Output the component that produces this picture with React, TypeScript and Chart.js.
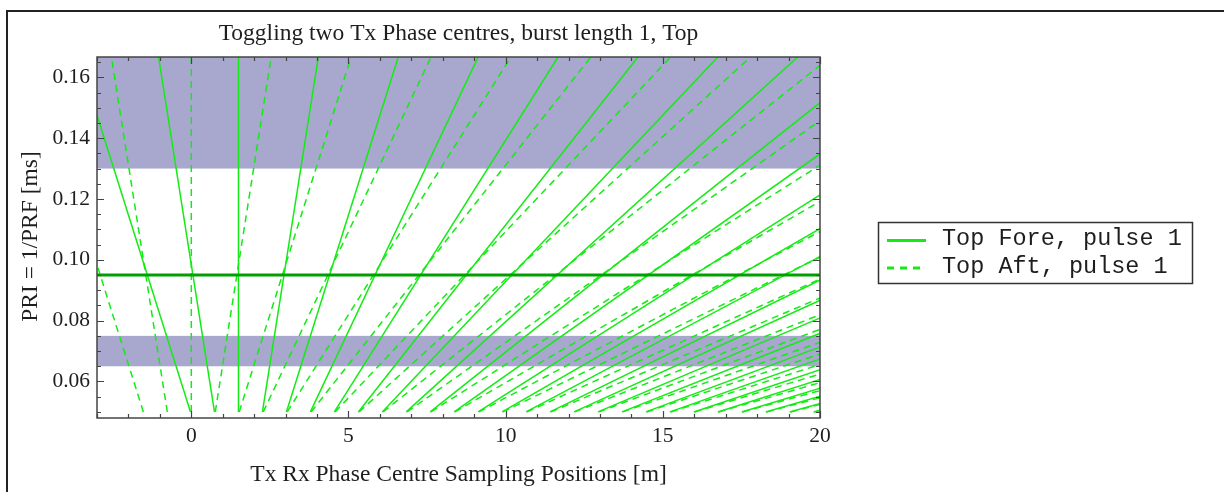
import React, { useEffect, useRef } from "react";
import { Chart, registerables } from "chart.js";

Chart.register(...registerables);

// ---------- text ----------
const titleText = "Toggling two Tx Phase centres, burst length 1, Top";
const xAxisTitle = "Tx Rx Phase Centre Sampling Positions [m]";
const yAxisTitle = "PRI = 1/PRF [ms]";
const legendLabels = ["Top Fore, pulse 1", "Top Aft, pulse 1"];

// ---------- axes ----------
const xMin = -3;
const xMax = 20;
const yMin = 0.048;
const yMax = 0.16667;
const xMajorTicks = [0, 5, 10, 15, 20];
const xTickLabels = ["0", "5", "10", "15", "20"];
const yMajorTicks = [0.06, 0.08, 0.1, 0.12, 0.14, 0.16];
const yTickLabels = ["0.06", "0.08", "0.10", "0.12", "0.14", "0.16"];
const xMinorStep = 1;
const yMinorStep = 0.005;

// ---------- data ----------
// PRI span covered by the sampling-position lines (ms)
const priStart = 0.05;
const priEnd = 0.16667;
// phase-centre position at PRI = 0 (m)
const foreOrigin = 1.5;
const aftOrigin = 0;
// rate of change of sampling position with PRI for each pulse line (m per ms)
const foreSlopes = [
  -30.5, -15.25, 0, 15.25, 30.5, 45.75, 61, 76.25, 91.5, 106.75, 122, 137.25,
  152.5, 167.75, 183, 198.25, 213.5, 228.75, 244, 259.25, 274.5, 289.75, 305,
  320.25, 335.5, 350.75, 366, 381.25,
];
const aftSlopes = [
  -30.5, -15.25, 0, 15.25, 30.5, 45.75, 61, 76.25, 91.5, 106.75, 122, 137.25,
  152.5, 167.75, 183, 198.25, 213.5, 228.75, 244, 259.25, 274.5, 289.75, 305,
  320.25, 335.5, 350.75, 366, 381.25, 396.5, 411.75,
];
// chosen PRI (ms)
const selectedPri = [0.095];
// shaded (blind) PRI bands (ms)
const bandLows = [0.065, 0.13];
const bandHighs = [0.075, 0.16667];

// ---------- styles ----------
const lineGreen = "rgb(20,235,20)";
const darkGreen = "rgb(0,160,0)";
const bandColor = "rgb(168,168,207)";
const frameColor = "#444";
const textColor = "#1e1e1e";
const serif = "'Liberation Serif', 'Times New Roman', serif";
const mono = "'Liberation Mono', 'Courier New', monospace";

function lineDataset(origin: number, slope: number, dashed: boolean) {
  return {
    data: [
      { x: origin + slope * priStart, y: priStart },
      { x: origin + slope * priEnd, y: priEnd },
    ],
    showLine: true,
    borderColor: lineGreen,
    backgroundColor: lineGreen,
    borderWidth: 1.5,
    borderDash: dashed ? [7, 5] : [],
    pointRadius: 0,
    pointHoverRadius: 0,
    clip: 0,
    fill: false,
  };
}

const decorPlugin = {
  id: "decor",
  beforeDatasetsDraw(chart: any) {
    const { ctx, chartArea: a, scales } = chart;
    const y = scales.y;
    ctx.save();
    ctx.fillStyle = bandColor;
    for (let i = 0; i < bandLows.length; i++) {
      const top = y.getPixelForValue(Math.min(bandHighs[i], yMax));
      const bot = y.getPixelForValue(Math.max(bandLows[i], yMin));
      ctx.fillRect(a.left, top, a.right - a.left, bot - top);
    }
    ctx.restore();
  },
  afterDatasetsDraw(chart: any) {
    const { ctx, chartArea: a, scales } = chart;
    const x = scales.x;
    const y = scales.y;
    ctx.save();
    ctx.strokeStyle = frameColor;
    ctx.lineWidth = 1.5;
    ctx.strokeRect(a.left, a.top, a.right - a.left, a.bottom - a.top);
    ctx.lineWidth = 1.2;
    const major = 7;
    const minor = 4;
    ctx.beginPath();
    // x ticks (bottom + top)
    for (let v = Math.ceil(xMin / xMinorStep) * xMinorStep; v <= xMax + 1e-9; v += xMinorStep) {
      const isMajor = xMajorTicks.some((m) => Math.abs(m - v) < 1e-9);
      const len = isMajor ? major : minor;
      const px = Math.round(x.getPixelForValue(v)) + 0.5;
      ctx.moveTo(px, a.bottom);
      ctx.lineTo(px, a.bottom - len);
      ctx.moveTo(px, a.top);
      ctx.lineTo(px, a.top + len);
    }
    // y ticks (left + right)
    const n0 = Math.ceil(yMin / yMinorStep - 1e-6);
    const n1 = Math.floor(yMax / yMinorStep + 1e-6);
    for (let n = n0; n <= n1; n++) {
      const v = n * yMinorStep;
      const isMajor = yMajorTicks.some((m) => Math.abs(m - v) < 1e-9);
      const len = isMajor ? major : minor;
      const py = Math.round(y.getPixelForValue(v)) + 0.5;
      ctx.moveTo(a.left, py);
      ctx.lineTo(a.left + len, py);
      ctx.moveTo(a.right, py);
      ctx.lineTo(a.right - len, py);
    }
    ctx.stroke();
    ctx.restore();
  },
  afterDraw(chart: any) {
    const { ctx, chartArea: a } = chart;
    ctx.save();
    ctx.fillStyle = textColor;
    // title
    ctx.font = `23.5px ${serif}`;
    ctx.textAlign = "center";
    ctx.textBaseline = "alphabetic";
    const cx = (a.left + a.right) / 2;
    ctx.fillText(titleText, cx, 39.5);
    // x axis title
    ctx.fillText(xAxisTitle, cx, 481);
    // y axis title
    ctx.save();
    ctx.translate(37, (a.top + a.bottom) / 2 - 1);
    ctx.rotate(-Math.PI / 2);
    ctx.fillText(yAxisTitle, 0, 0);
    ctx.restore();

    // legend
    const lx = 878;
    const ly = 222;
    const lw = 314;
    const lh = 61;
    ctx.strokeStyle = "#333";
    ctx.lineWidth = 1.5;
    ctx.strokeRect(lx + 0.5, ly + 0.5, lw, lh);
    ctx.strokeStyle = lineGreen;
    ctx.lineWidth = 3;
    ctx.beginPath();
    ctx.setLineDash([]);
    ctx.moveTo(lx + 9, ly + 18.5);
    ctx.lineTo(lx + 48, ly + 18.5);
    ctx.stroke();
    ctx.beginPath();
    ctx.setLineDash([7, 6]);
    ctx.moveTo(lx + 9, ly + 46);
    ctx.lineTo(lx + 45, ly + 46);
    ctx.stroke();
    ctx.setLineDash([]);
    ctx.fillStyle = textColor;
    ctx.font = `23.5px ${mono}`;
    ctx.textAlign = "left";
    ctx.fillText(legendLabels[0], lx + 64, ly + 23);
    ctx.fillText(legendLabels[1], lx + 64, ly + 51);
    ctx.restore();
  },
};

export default function App() {
  const canvasRef = useRef<HTMLCanvasElement | null>(null);

  useEffect(() => {
    const canvas = canvasRef.current;
    if (!canvas) return;

    const datasets: any[] = [];
    selectedPri.forEach((p) => {
      datasets.push({
        data: [
          { x: xMin, y: p },
          { x: xMax, y: p },
        ],
        showLine: true,
        borderColor: darkGreen,
        backgroundColor: darkGreen,
        borderWidth: 3,
        pointRadius: 0,
        pointHoverRadius: 0,
        clip: 0,
        fill: false,
      });
    });
    foreSlopes.forEach((s) => datasets.push(lineDataset(foreOrigin, s, false)));
    aftSlopes.forEach((s) => datasets.push(lineDataset(aftOrigin, s, true)));

    const chart = new Chart(canvas, {
      type: "scatter",
      data: { datasets },
      plugins: [decorPlugin],
      options: {
        animation: false,
        responsive: false,
        devicePixelRatio: 1,
        events: [],
        layout: { padding: { left: 0, top: 57, right: 404, bottom: 0 } },
        plugins: {
          legend: { display: false },
          title: { display: false },
          tooltip: { enabled: false },
        },
        scales: {
          x: {
            type: "linear",
            min: xMin,
            max: xMax,
            grid: { display: false, drawTicks: false },
            border: { display: false },
            afterBuildTicks: (s: any) => {
              s.ticks = xMajorTicks.map((v) => ({ value: v }));
            },
            afterFit: (s: any) => {
              s.height = 74;
            },
            ticks: {
              autoSkip: false,
              maxRotation: 0,
              padding: 5,
              color: textColor,
              font: { family: serif, size: 21.5 },
              callback: (v: any) => {
                const i = xMajorTicks.indexOf(Number(v));
                return i >= 0 ? xTickLabels[i] : "";
              },
            },
          },
          y: {
            type: "linear",
            min: yMin,
            max: yMax,
            grid: { display: false, drawTicks: false },
            border: { display: false },
            afterBuildTicks: (s: any) => {
              s.ticks = yMajorTicks.map((v) => ({ value: v }));
            },
            afterFit: (s: any) => {
              s.width = 97;
            },
            ticks: {
              autoSkip: false,
              padding: 7,
              color: textColor,
              font: { family: serif, size: 21.5 },
              callback: (v: any) => {
                const i = yMajorTicks.findIndex((m) => Math.abs(m - Number(v)) < 1e-9);
                return i >= 0 ? yTickLabels[i] : "";
              },
            },
          },
        },
      } as any,
    });

    return () => chart.destroy();
  }, []);

  return (
    <div style={{ position: "absolute", left: 0, top: 0, width: 1224, height: 492, background: "#fff" }}>
      <canvas ref={canvasRef} width={1224} height={492} style={{ display: "block" }} />
      <div
        style={{
          position: "absolute",
          left: 6,
          top: 10,
          right: 0,
          bottom: 0,
          borderTop: "2px solid #222",
          borderLeft: "2px solid #222",
          pointerEvents: "none",
        }}
      />
    </div>
  );
}
